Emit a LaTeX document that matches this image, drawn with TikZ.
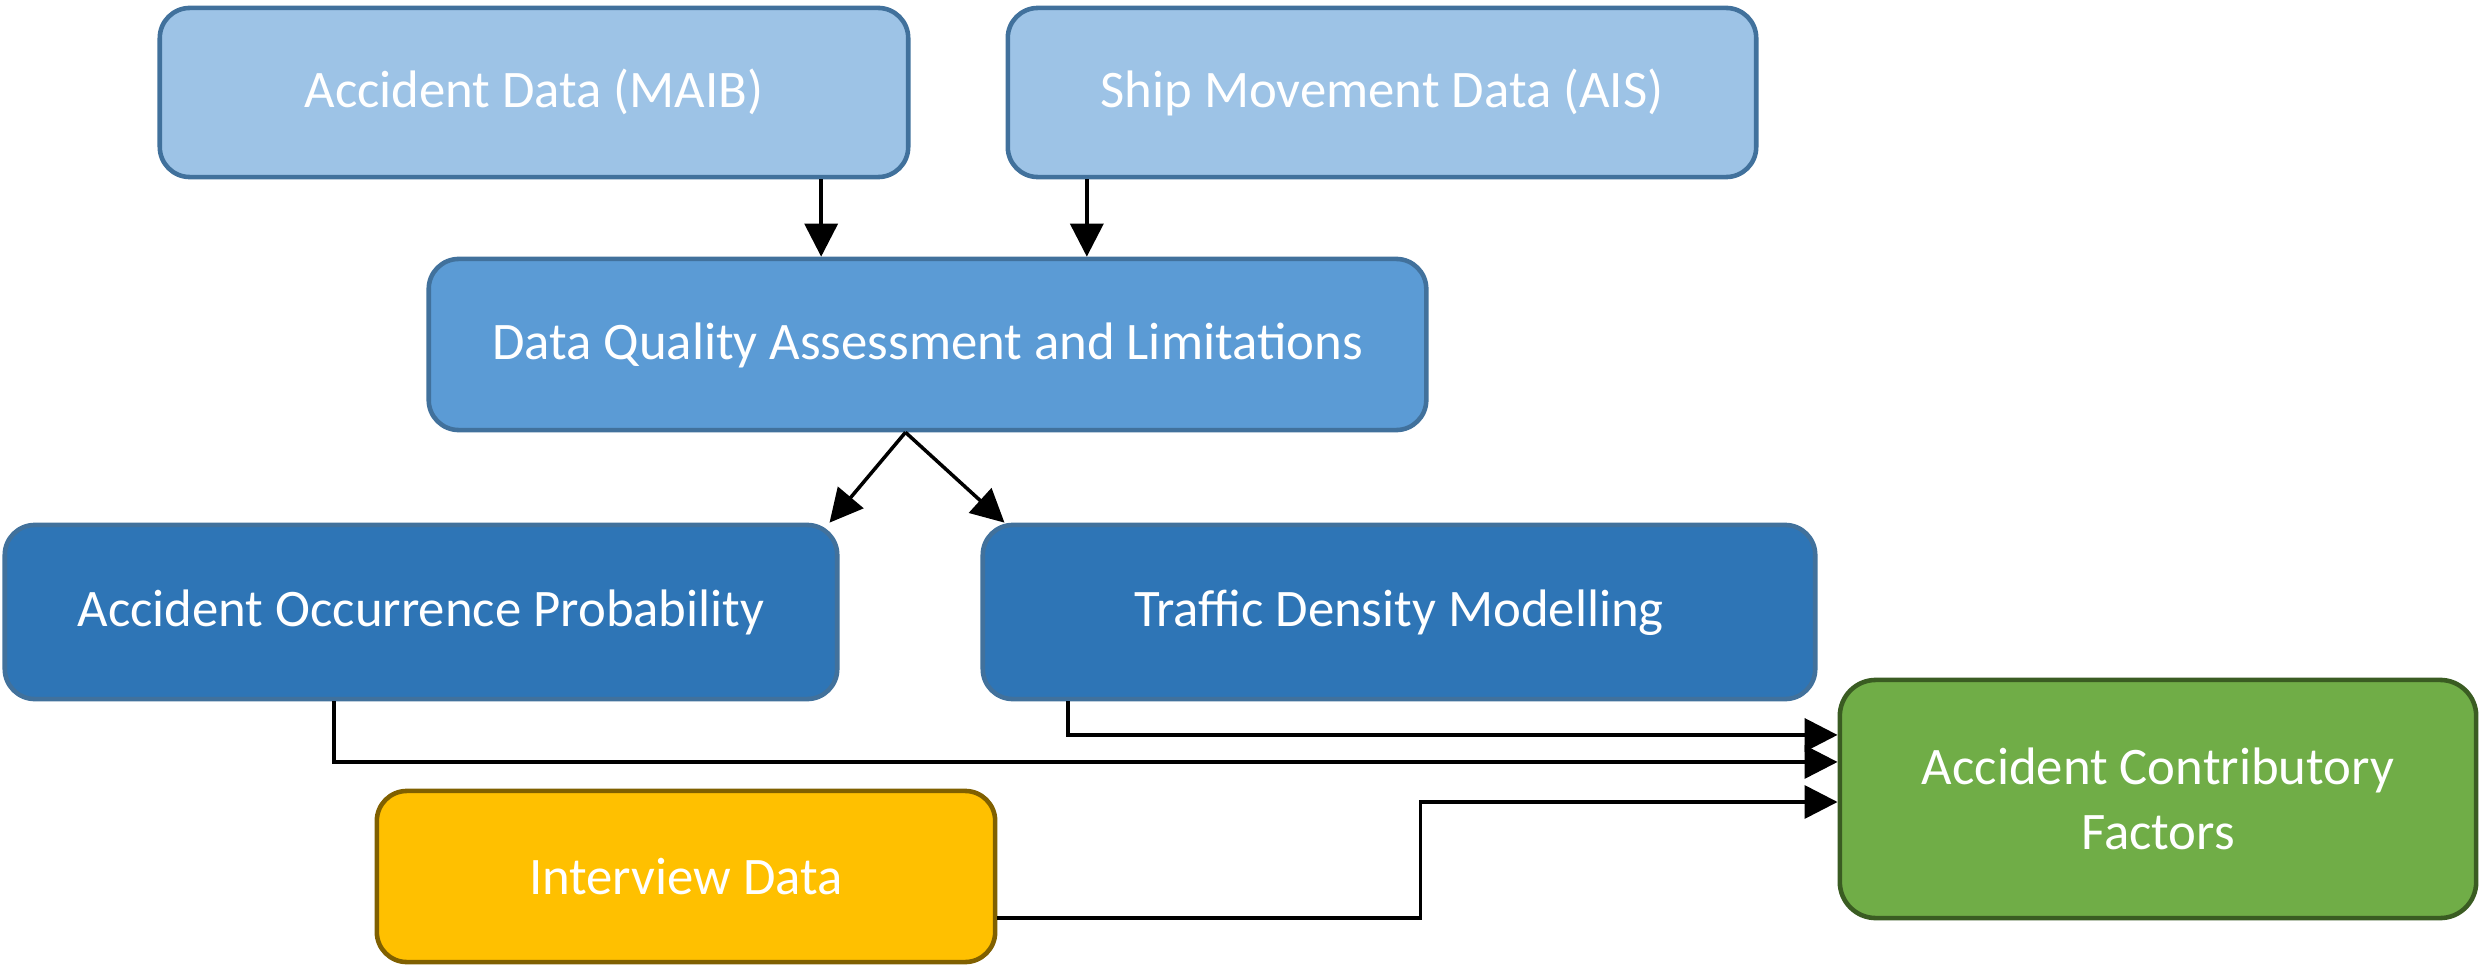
\documentclass[tikz,border=0pt]{standalone}
\usepackage{fontspec}
\setmainfont{Carlito}
\usetikzlibrary{arrows.meta}
\definecolor{srcfill}{HTML}{9DC3E6}
\definecolor{qualfill}{HTML}{5B9BD5}
\definecolor{modfill}{HTML}{2E75B6}
\definecolor{blueline}{HTML}{41719C}
\definecolor{resfill}{HTML}{70AD47}
\definecolor{resline}{HTML}{3A5C22}
\definecolor{intfill}{HTML}{FFC000}
\definecolor{intline}{HTML}{806000}
\begin{document}
\begin{tikzpicture}[x=0.01cm, y=-0.01cm,
    blk/.style={rectangle, rounded corners=0.3cm, line width=1.3pt, text=white,
      font=\fontsize{15}{18.5}\selectfont, align=center},
    bluebox/.style={blk, draw=blueline, text height=1.05em, text depth=0.2em},
    srcbox/.style={bluebox, fill=srcfill, minimum width=7.48cm, minimum height=1.69cm},
    qualbox/.style={bluebox, fill=qualfill, minimum width=9.97cm, minimum height=1.71cm},
    modbox/.style={bluebox, fill=modfill, minimum width=8.32cm, minimum height=1.74cm},
    resbox/.style={blk, rounded corners=0.36cm, draw=resline, fill=resfill, minimum width=6.36cm, minimum height=2.38cm},
    intbox/.style={blk, draw=intline, fill=intfill, minimum width=6.18cm, minimum height=1.71cm},
    arr/.style={line width=1pt, -{Triangle[length=0.33cm, width=0.33cm]}}]
  \useasboundingbox (0,0) rectangle (2481,970);
  % boxes
  \node[srcbox] (maib) at (534,92.5) {Accident Data (MAIB)};
  \node[srcbox] (ais) at (1382,92.5) {Ship Movement Data (AIS)};
  \node[qualbox] (dqa) at (927.5,344.5) {Data Quality Assessment and Limitations};
  \node[modbox] (occ) at (421,612) {Accident Occurrence Probability};
  \node[modbox] (tdm) at (1399,612) {Traffic Density Modelling};
  \node[resbox] (acf) at (2158,799) {Accident Contributory\\Factors};
  \node[intbox] (intv) at (686,876.5) {Interview Data};
  % connectors
  \draw[arr] ([xshift=2.87cm]maib.south) -- ([xshift=2.87cm]maib.south |- dqa.north);
  \draw[arr] ([xshift=-2.95cm]ais.south) -- ([xshift=-2.95cm]ais.south |- dqa.north);
  \draw[arr] ([xshift=-0.22cm]dqa.south) -- ([xshift=-0.1cm]occ.north east);
  \draw[arr] ([xshift=-0.22cm]dqa.south) -- ([xshift=0.24cm]tdm.north west);
  \draw[arr] ([xshift=-3.31cm]tdm.south) |- ([yshift=0.64cm]acf.west);
  \draw[arr] ([xshift=-0.87cm]occ.south) |- ([yshift=0.37cm]acf.west);
  \draw[arr] ([yshift=-0.415cm]intv.east) -- ++(4.23cm,0) |- ([yshift=-0.03cm]acf.west);
\end{tikzpicture}
\end{document}
